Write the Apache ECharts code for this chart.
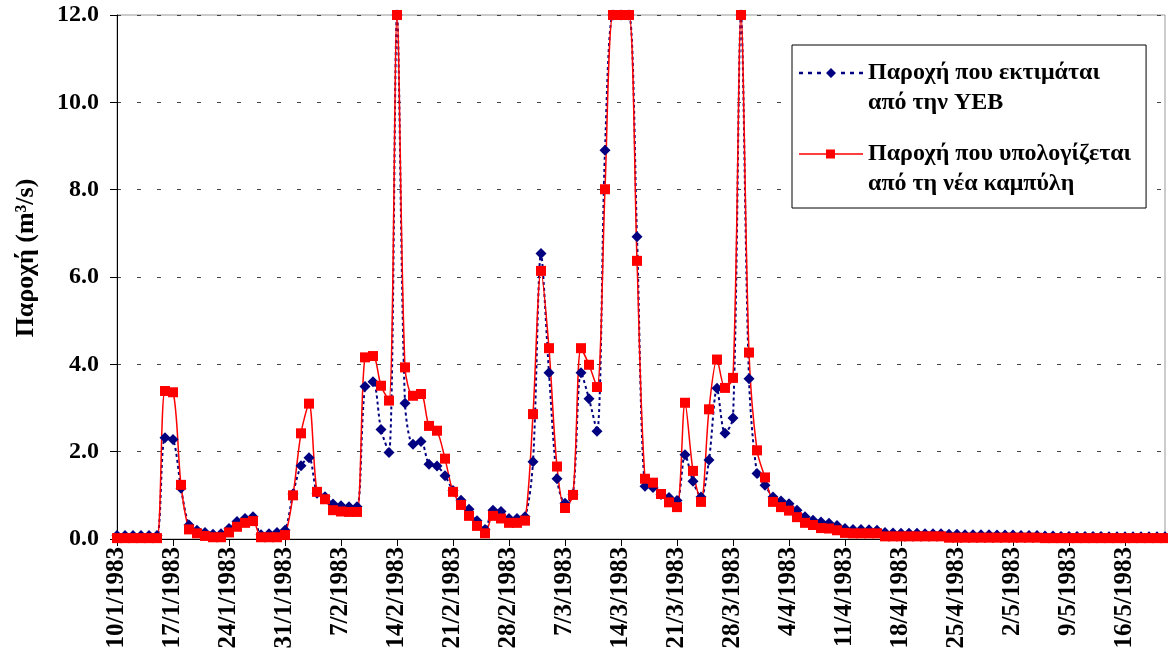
<!DOCTYPE html>
<html>
<head>
<meta charset="utf-8">
<title>Παροχή</title>
<script src="https://cdn.jsdelivr.net/npm/echarts@6/dist/echarts.min.js"></script>
<style>
html, body { margin: 0; padding: 0; background: #fff; }
#chart { width: 1168px; height: 668px; }
</style>
</head>
<body>
<div id="chart"></div>
<script>
// ημερήσιες τιμές από 10/1/1983
var startDate = [1983, 0, 10];
var seriesNames = ['Παροχή που εκτιμάται\nαπό την ΥΕΒ', 'Παροχή που υπολογίζεται\nαπό τη νέα καμπύλη'];
var yTicks = [0, 2, 4, 6, 8, 10, 12];

// Παροχή από την ΥΕΒ (m3/s)
var flowYEB = [
  0.08, 0.08, 0.08, 0.08, 0.08, 0.08,
  2.32, 2.28, 1.16, 0.32, 0.2,
  0.15, 0.11, 0.12, 0.24, 0.4,
  0.47, 0.51, 0.1, 0.12, 0.15,
  0.2, 1.03, 1.68, 1.86, 1.05,
  0.97, 0.8, 0.76, 0.74, 0.74,
  3.49, 3.6, 2.51, 1.98, 12,
  3.11, 2.17, 2.23, 1.71, 1.67,
  1.45, 1.11, 0.89, 0.68, 0.42,
  0.22, 0.66, 0.63, 0.47, 0.47,
  0.51, 1.77, 6.54, 3.81, 1.38,
  0.82, 1.02, 3.81, 3.21, 2.47,
  8.9, 12, 12, 12, 6.92,
  1.21, 1.18, 1.02, 0.95, 0.88,
  1.93, 1.32, 0.96, 1.81, 3.45,
  2.42, 2.77, 12, 3.67, 1.5,
  1.23, 0.96, 0.87, 0.81, 0.66,
  0.51, 0.43, 0.39, 0.36, 0.31,
  0.24, 0.22, 0.22, 0.21, 0.2,
  0.15, 0.14, 0.13, 0.13, 0.13,
  0.12, 0.12, 0.12, 0.11, 0.11,
  0.1, 0.1, 0.1, 0.1, 0.09,
  0.09, 0.09, 0.08, 0.08, 0.08,
  0.07, 0.07, 0.06, 0.06, 0.06,
  0.06, 0.06, 0.06, 0.05, 0.05,
  0.05, 0.05, 0.05, 0.05, 0.05,
  0.05
];

// Παροχή από τη νέα καμπύλη (m3/s)
var flowNewCurve = [
  0.02, 0.02, 0.02, 0.02, 0.02, 0.02,
  3.39, 3.36, 1.24, 0.22, 0.13,
  0.07, 0.04, 0.04, 0.15, 0.28,
  0.37, 0.41, 0.04, 0.04, 0.04,
  0.09, 1.0, 2.42, 3.1, 1.08,
  0.91, 0.66, 0.63, 0.62, 0.62,
  4.16, 4.19, 3.51, 3.17, 12,
  3.93, 3.28, 3.32, 2.59, 2.48,
  1.84, 1.08, 0.78, 0.53, 0.3,
  0.13, 0.53, 0.47, 0.37, 0.37,
  0.42, 2.86, 6.14, 4.37, 1.66,
  0.71, 1.01, 4.37, 3.99, 3.48,
  8.01, 12, 12, 12, 6.37,
  1.38, 1.29, 1.03, 0.84, 0.73,
  3.12, 1.56, 0.85, 2.97, 4.11,
  3.46, 3.69, 12, 4.27, 2.03,
  1.41, 0.85, 0.73, 0.65, 0.5,
  0.37, 0.32, 0.25, 0.24, 0.2,
  0.14, 0.13, 0.13, 0.13, 0.13,
  0.06, 0.06, 0.06, 0.06, 0.06,
  0.06, 0.06, 0.06, 0.03, 0.03,
  0.03, 0.03, 0.03, 0.03, 0.03,
  0.03, 0.03, 0.03, 0.03, 0.03,
  0.02, 0.02, 0.02, 0.02, 0.02,
  0.02, 0.02, 0.02, 0.02, 0.02,
  0.02, 0.02, 0.02, 0.02, 0.02,
  0.02
];

// d/m/yyyy, μία ημέρα ανά τιμή
var days = [];
for (var i = 0; i < flowYEB.length; i++) {
  var d = new Date(startDate[0], startDate[1], startDate[2] + i);
  days.push(d.getDate() + '/' + (d.getMonth() + 1) + '/' + d.getFullYear());
}

var font = "'Liberation Serif', 'Times New Roman', serif";

// εικονίδια υπομνήματος 64x60: γραμμή στο ύψος της 1ης σειράς κειμένου
// (τα M0 0 / M64 60 κρατάνε μόνο το πλαίσιο του path)
var frame = 'M0 0 L0 0 M64 60 L64 60 ';
var iconYEB = 'path://' + frame +
  'M0 13.8 h4 v2.4 h-4 Z M9 13.8 h4 v2.4 h-4 Z M18 13.8 h4 v2.4 h-4 Z ' +
  'M42 13.8 h4 v2.4 h-4 Z M51 13.8 h4 v2.4 h-4 Z M60 13.8 h4 v2.4 h-4 Z ' +
  'M32 10 L37 15 L32 20 L27 15 Z';
var iconNew = 'path://' + frame +
  'M0 14.2 h64 v1.6 h-64 Z M27 10.5 h9 v9 h-9 Z';

var chart = echarts.init(document.getElementById('chart'));
chart.setOption({
  animation: false,
  backgroundColor: '#fff',
  grid: {
    left: 117,
    right: 3,
    top: 15,
    bottom: 129,
    show: true,
    borderColor: '#999',
    borderWidth: 1
  },
  legend: {
    orient: 'vertical',
    left: 792,
    top: 45,
    backgroundColor: '#fff',
    borderColor: '#000',
    borderWidth: 1,
    borderRadius: 0,
    padding: [13, 15, 9, 7],
    itemGap: 21,
    itemWidth: 64,
    itemHeight: 60,
    textStyle: {
      fontFamily: font,
      fontSize: 24,
      fontWeight: 'bold',
      color: '#000',
      lineHeight: 30
    },
    data: [
      { name: seriesNames[0], icon: iconYEB },
      { name: seriesNames[1], icon: iconNew }
    ]
  },
  xAxis: {
    type: 'category',
    data: days,
    boundaryGap: false,
    axisLine: { lineStyle: { color: '#000', width: 1 } },
    axisTick: { interval: 6, length: 7, lineStyle: { color: '#000' } },
    axisLabel: {
      interval: 6,
      rotate: 90,
      margin: 8,
      fontFamily: font,
      fontSize: 25,
      fontWeight: 'bold',
      color: '#000'
    },
    splitLine: { show: false }
  },
  yAxis: {
    type: 'value',
    min: yTicks[0],
    max: yTicks[yTicks.length - 1],
    interval: 2,
    name: 'Παροχή (m³/s)',
    nameLocation: 'middle',
    nameGap: 78,
    nameTextStyle: {
      fontFamily: font,
      fontSize: 26,
      fontWeight: 'bold',
      color: '#000',
      padding: [0, 0, 0, 38]
    },
    axisLine: { show: true, lineStyle: { color: '#000', width: 1 } },
    axisTick: { show: true, length: 7, lineStyle: { color: '#000' } },
    axisLabel: {
      margin: 18,
      fontFamily: font,
      fontSize: 24,
      fontWeight: 'bold',
      color: '#000',
      formatter: function (v) { return v.toFixed(1); }
    },
    splitLine: { show: true, lineStyle: { color: '#444', type: [4, 16], width: 1 } }
  },
  series: [{
    name: seriesNames[0],
    type: 'line',
    data: flowYEB,
    smooth: 0.3,
    showAllSymbol: true,
    symbol: 'diamond',
    symbolSize: 11,
    itemStyle: { color: '#000080' },
    lineStyle: { color: '#000080', width: 2, type: [3, 3] }
  }, {
    name: seriesNames[1],
    type: 'line',
    data: flowNewCurve,
    smooth: 0.3,
    showAllSymbol: true,
    symbol: 'rect',
    symbolSize: 10,
    itemStyle: { color: '#ff0000' },
    lineStyle: { color: '#ff0000', width: 1.5 }
  }]
});
</script>
</body>
</html>
